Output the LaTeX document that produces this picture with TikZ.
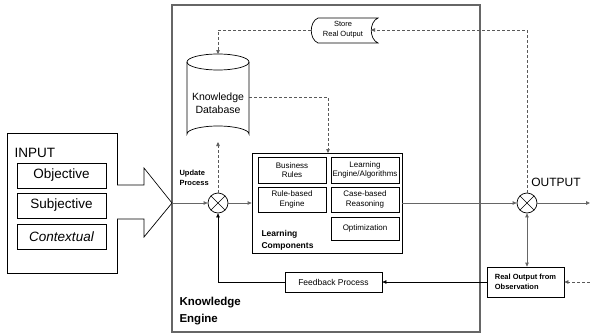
\documentclass[tikz,border=0pt]{standalone}
\usepackage{fontspec}
\setmainfont{Liberation Sans}
\usetikzlibrary{arrows.meta,shapes.geometric,calc}
\begin{document}
\begin{tikzpicture}[x=1pt,y=-1pt,
 box/.style={draw,line width=0.7pt,inner sep=0pt,align=center},
 tip/.style={-{Triangle[length=4pt,width=3.5pt]}},
 dtip/.style={{Triangle[length=4pt,width=3.5pt]}-{Triangle[length=4pt,width=3.5pt]}},
 dsh/.style={draw=black!65,dash pattern=on 3pt off 2pt,line width=0.6pt},
 main/.style={draw=black!60,line width=0.8pt},
 fb/.style={draw=black,line width=0.7pt},
 sumj/.style={circle,draw,line width=0.7pt,minimum size=20pt,inner sep=0pt,
   path picture={\draw[line width=0.6pt] (path picture bounding box.north west)--(path picture bounding box.south east)
   (path picture bounding box.north east)--(path picture bounding box.south west);}},
 big/.style={font=\fontsize{13.5}{15}\selectfont},
 small/.style={font=\fontsize{8}{9.5}\selectfont}
]
\useasboundingbox (0,0) rectangle (590,335);
% Knowledge engine
\node[draw=black!60,line width=1.1pt,minimum width=308pt,minimum height=327pt,inner sep=0pt] (ke) at (326,168.5) {};
\node[anchor=west,align=left,font=\bfseries\fontsize{11.5}{17}\selectfont] (kelab) at (176,311) {Knowledge\\Engine};
% Input
\node[box,minimum width=110pt,minimum height=140pt] (inbox) at (62,203) {};
\node[anchor=west,big] (inlab) at (11,153) {INPUT};
\node[box,big,minimum width=89pt,minimum height=25pt] (obj) at (61.5,175.5) {Objective};
\node[box,big,minimum width=89pt,minimum height=25pt] (subj) at (61.5,205.5) {Subjective};
\node[box,big,minimum width=89pt,minimum height=25pt] (ctx) at (61.5,236.5) {\itshape Contextual};
\coordinate (arrtip) at (172,203);
\draw[line width=0.7pt,fill=white] (117,185) -- (144,185) -- (144,168) -- (arrtip) -- (144,237) -- (144,219) -- (117,219);
% junctions
\node[sumj] (s1) at (218,203) {};
\node[sumj] (s2) at (527,203) {};
\node[anchor=west,align=left,font=\bfseries\fontsize{7.5}{10.5}\selectfont] (upd) at (176,178) {Update\\Process};
\node[font=\fontsize{12}{13}\selectfont] (outlab) at (556,182) {OUTPUT};
% database
\draw[line width=0.7pt,fill=white] (187,62) -- (187,134) arc[start angle=180,end angle=360,x radius=31,y radius=8] -- (249,62);
\draw[line width=0.7pt] (218,62) ellipse[x radius=31,y radius=8];
\node[align=center,font=\fontsize{10.5}{13}\selectfont] (db) at (218,103) {Knowledge\\Database};
\coordinate (dbtop) at (218,54);
\coordinate (dbbot) at (218,142);
\coordinate (dbright) at (249,97);
% store real output
\draw[line width=0.7pt] (318,18) -- (378,18) .. controls (369,22) and (369,39) .. (378,43) -- (318,43) .. controls (309,39) and (309,22) .. (318,18);
\node[align=center,font=\fontsize{7.5}{10}\selectfont] (store) at (343,30) {Store\\Real Output};
\coordinate (storeR) at (371,30);
\coordinate (storeL) at (311,30);
\coordinate (corner1) at (527,30);
% learning components
\node[box,minimum width=150pt,minimum height=100pt] (lc) at (327,203) {};
\node[anchor=west,align=left,font=\bfseries\fontsize{8.5}{12}\selectfont] (lclab) at (258,240) {Learning\\Components};
\node[box,small,minimum width=68pt,minimum height=26pt] (br) at (292,170) {Business\\Rules};
\node[box,small,minimum width=68pt,minimum height=26pt] (le) at (365,170) {Learning\\Engine/Algorithms};
\node[box,small,minimum width=68pt,minimum height=25pt] (rb) at (292,199.5) {Rule-based\\Engine};
\node[box,small,minimum width=68pt,minimum height=25pt] (cb) at (365,199.5) {Case-based\\Reasoning};
\node[box,small,minimum width=68pt,minimum height=23pt] (opt) at (365,228.5) {Optimization};
\coordinate (lcin) at (328,153);
% feedback and observation
\node[box,font=\fontsize{8.5}{10}\selectfont,minimum width=97pt,minimum height=20pt] (fbk) at (333.5,282) {Feedback Process};
\node[box,align=left,font=\bfseries\fontsize{7.5}{9.5}\selectfont,minimum width=77pt,minimum height=30pt] (ro) at (525.5,282) {Real Output from\\Observation};
\coordinate (outend) at (590,203);
\coordinate (inobs) at (590,282);
% connectors
\draw[main,tip] (arrtip) -- (s1);
\draw[main,tip] (s1) -- (lc.west);
\draw[main,tip] (lc.east) -- (s2);
\draw[main,tip] (s2) -- (outend);
\draw[dsh,tip] (s1) -- (dbbot);
\draw[dsh,tip] (dbright) -| (lcin);
\draw[dsh,tip] (s2.north) -- (corner1) -- (storeR);
\draw[dsh,tip] (storeL) -| (dbtop);
\draw[fb,tip] (ro.west) -- (fbk.east);
\draw[fb,tip] (fbk.west) -| (s1.south);
\draw[main,dtip] (ro.north -| s2) -- (s2.south);
\draw[dsh,tip] (inobs) -- (ro.east);
\end{tikzpicture}
\end{document}
